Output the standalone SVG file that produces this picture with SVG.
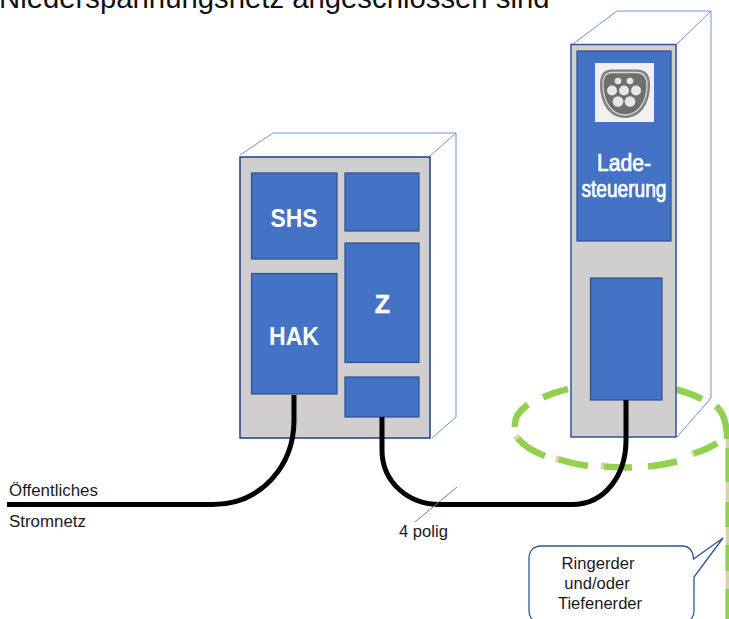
<svg xmlns="http://www.w3.org/2000/svg" width="729" height="619" viewBox="0 0 729 619">
<style>
text{font-family:"Liberation Sans",Arial,sans-serif}
.lab{font-size:16.6px;fill:#1a1a1a}
.big{font-size:16.9px}
.white{fill:#fff;font-weight:bold;text-anchor:middle}
.thin{font-weight:normal;stroke:#fff;stroke-width:.7}
.mid{text-anchor:middle}
.case{fill:#d0cece;stroke:#1f3f80;stroke-width:1.5}
.blue{fill:#4472c4;stroke:#2f528f;stroke-width:1.2}
.depth{fill:none;stroke:#6f94d6;stroke-width:1}
.cable{fill:none;stroke:#000;stroke-width:5}
.earth{fill:none;stroke:#92d050;stroke-width:6.500}
.vert{fill:none;stroke:#92d050;stroke-width:4}
</style>
<rect width="729" height="619" fill="#fff"/>
<text x="-1" y="7.500" font-size="29.300" fill="#111">Niederspannungsnetz angeschlossen sind</text>
<g id="earth-ring">
<path d="M516 436L518 438.500M556 458.500L560 459.500M601 465.500L605 466M692 454L695 453" fill="none" stroke="#d6d3a8" stroke-width="6.500"/>
<path class="earth" d="M543 397.500A107 42 0 0 1 568 389M528 404.500A107 42 0 0 0 515 427M518 438.500A107 42 0 0 0 545 456M559 459.500A107 42 0 0 0 588 466M604 466.500A107 42 0 0 0 632 467.500M648 466.500A107 42 0 0 0 677 461.500M694 453.500A107 42 0 0 0 717 443M676 389.500A107 42 0 0 1 702 399M716 406C723 412 727 421 727 439"/>
</g>
<g id="earth-lead">
<path d="M727.500 439V619" fill="none" stroke="#d6d3a8" stroke-width="3.500"/>
<path class="vert" d="M727.500 448V482M727.500 502V527M727.500 545V571M727.500 589V619"/>
</g>
<g id="distribution-box">
<path class="depth" d="M240 155L273 133H456V417L432 438M430 156L456 133"/>
<rect class="case" x="240" y="157" width="190" height="281"/>
</g>
<g id="SHS"><rect class="blue" x="251.500" y="173" width="85.500" height="86"/><text class="white" x="294" y="227" font-size="25" textLength="47" lengthAdjust="spacingAndGlyphs">SHS</text></g>
<g id="box-top-right"><rect class="blue" x="345" y="173" width="74" height="58"/></g>
<g id="Z"><rect class="blue" x="345" y="243" width="74" height="119.500"/><text class="white" x="382.500" y="313" font-size="25" stroke="#fff" stroke-width=".5">Z</text></g>
<g id="HAK"><rect class="blue" x="251.500" y="273.500" width="85.500" height="120.500"/><text class="white" x="294" y="345" font-size="25" textLength="50" lengthAdjust="spacingAndGlyphs">HAK</text></g>
<g id="box-bottom-right"><rect class="blue" x="345" y="377" width="74" height="40"/></g>
<g id="charging-station">
<path class="depth" d="M573 44L617 11H711V398L677 437M677 44L711 11"/>
<rect x="571" y="44.500" width="105" height="392.500" fill="#d0cece" stroke="#2f5597" stroke-width="1.500"/>
</g>
<g id="Ladesteuerung">
<rect class="blue" x="577" y="51" width="94" height="190"/>
<rect x="595" y="63" width="59" height="59" fill="#f0f0f0"/>
<path d="M612 69.500H637C646 69.500 650 75 650 85C650 104 640 118 625 118C610 118 600 104 600 85C600 75 603 69.500 612 69.500Z" fill="#7f7f7f"/>
<path d="M612.500 72.500H636.500C644 72.500 647 77 647 85C647 102 638 115 625 115C612 115 603 102 603 85C603 77 605 72.500 612.500 72.500Z" fill="#6f6f6f" stroke="#d8d8d8" stroke-width="1.300"/>
<g fill="#e6e6e6"><circle cx="618" cy="81" r="3.300"/><circle cx="630" cy="81" r="3.300"/><circle cx="624" cy="90.500" r="5"/><circle cx="612" cy="90.500" r="5"/><circle cx="636" cy="90.500" r="5"/><circle cx="618" cy="101.500" r="5.300"/><circle cx="630" cy="101.500" r="5.300"/></g>
<text class="white thin" x="624" y="171" font-size="23" textLength="54" lengthAdjust="spacingAndGlyphs">Lade-</text>
<text class="white thin" x="624" y="197" font-size="23" textLength="85" lengthAdjust="spacingAndGlyphs">steuerung</text>
</g>
<g id="box-station-lower"><rect class="blue" x="590.500" y="278" width="71.500" height="122"/></g>
<g id="connectors">
<path class="cable" d="M7 504.500H212C262 504.500 294 465 294 420V395"/>
<path class="cable" d="M382 417V450C382 482 408 504.500 440 504.500H572C605 504.500 626 475 626 440V400"/>
<path d="M415 522L457 487" fill="none" stroke="#7f7f7f" stroke-width="1"/>
</g>
<g id="labels">
<text class="lab big" x="9" y="496">Öffentliches</text>
<text class="lab big" x="9" y="527">Stromnetz</text>
<text class="lab" x="399" y="537">4 polig</text>
</g>
<g id="callout">
<path d="M541 546H682C689 546 693 551 693.500 559L723 538L694 577V611C694 618 689 623 682 623H541C534 623 529 618 529 611V558C529 551 534 546 541 546Z" fill="#fff" stroke="#2f5597" stroke-width="1.300"/>
<text class="lab mid" x="598" y="569">Ringerder</text>
<text class="lab mid" x="597" y="589">und/oder</text>
<text class="lab mid" x="600" y="609">Tiefenerder</text>
</g>
</svg>
